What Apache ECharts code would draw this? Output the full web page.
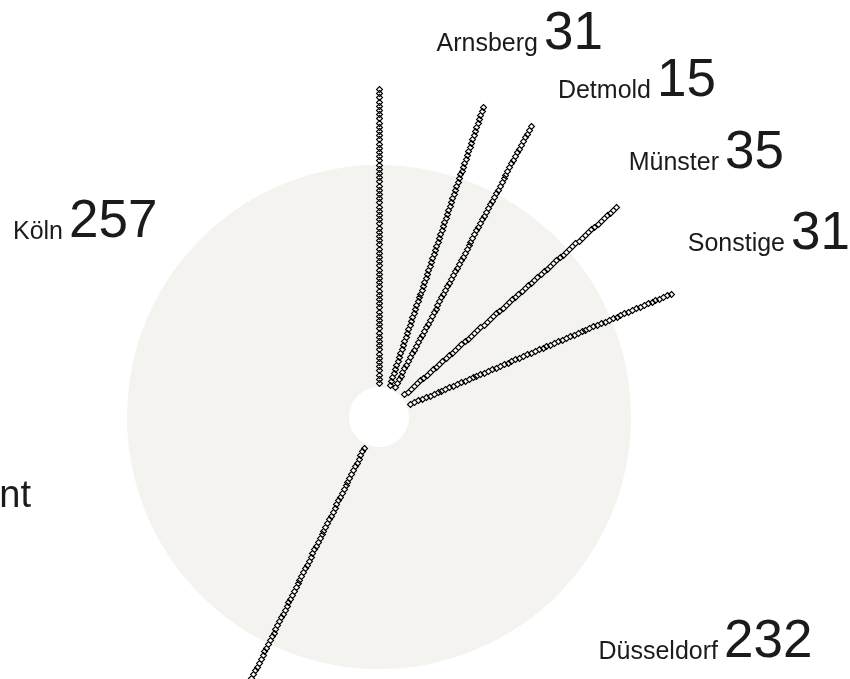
<!DOCTYPE html>
<html>
<head>
<meta charset="utf-8">
<script src="https://cdn.jsdelivr.net/npm/echarts@6/dist/echarts.min.js"></script>
<style>
  html, body { margin: 0; padding: 0; background: #fff; }
  #chart { width: 850px; height: 679px; }
</style>
</head>
<body>
<div id="chart"></div>
<script>
// Seats per administrative district, clockwise from 12 o'clock
const categories = ['Arnsberg', 'Detmold', 'Münster', 'Sonstige', 'Düsseldorf', 'Köln'];
const values = [31, 15, 35, 31, 232, 257];

// ---- layout & style ----
const FONT = '"Liberation Sans", Arial, sans-serif';
const CENTER = [379, 417];
const PIE_RADIUS = [30, 252];
const SPOKE_IN = 34;                                  // px from centre where a spoke starts
const SPOKE_OUT = [328, 327, 328, 317, 317, 345];     // spoke length per slice start
const LABEL_POS = [                                   // [number left x, baseline y]
  [547, 53], [660, 100], [728, 172], [794, 253], [727, 661], [72, 241]
];
const NAME_SIZE = 25, VALUE_SIZE = 53;
const INK = '#1b1b1b';
const FILL = '#f4f3ef';
const PITCH = 4.2, HALF = 3;

const total = values.reduce((a, b) => a + b, 0);
const starts = values.map((v, i) => values.slice(0, i).reduce((a, b) => a + b, 0));

// baseline -> centre-of-line offset used by zrender ('middle' baseline)
const mid = (baseline, size) => baseline - 0.3465 * size;

const labelGraphics = [];
categories.forEach((name, i) => {
  const [x, base] = LABEL_POS[i];
  labelGraphics.push({
    type: 'text', silent: true,
    style: { text: name, x: x - 9, y: mid(base, NAME_SIZE), align: 'right', verticalAlign: 'middle',
             font: NAME_SIZE + 'px ' + FONT, fill: INK }
  });
  labelGraphics.push({
    type: 'text', silent: true,
    style: { text: String(values[i]), x: x - 3, y: mid(base, VALUE_SIZE), align: 'left', verticalAlign: 'middle',
             font: VALUE_SIZE + 'px ' + FONT, fill: INK }
  });
});
labelGraphics.push({
  type: 'text', silent: true,
  style: { text: 'nt', x: 31, y: mid(510, 38), align: 'right', verticalAlign: 'middle',
           font: '38px ' + FONT, fill: INK }
});

const chart = echarts.init(document.getElementById('chart'), null, { renderer: 'canvas' });

chart.setOption({
  backgroundColor: '#fff',
  animation: false,
  polar: { center: CENTER, radius: 400 },
  angleAxis: { type: 'value', min: 0, max: total, startAngle: 90, clockwise: true, show: false },
  radiusAxis: { type: 'value', min: 0, max: 400, show: false },
  graphic: labelGraphics,
  series: [
    {
      type: 'pie',
      center: CENTER,
      radius: PIE_RADIUS,
      startAngle: 90,
      clockwise: true,
      silent: true,
      label: { show: false },
      labelLine: { show: false },
      itemStyle: { color: FILL, borderWidth: 0 },
      emphasis: { disabled: true },
      data: categories.map((c, i) => ({ name: c, value: values[i] }))
    },
    {
      type: 'custom',
      coordinateSystem: 'polar',
      silent: true,
      z: 5,
      data: starts.map(s => [s]),
      encode: { angle: 0 },
      renderItem: function (params, api) {
        const a = api.value(0);
        const p0 = api.coord([SPOKE_IN, a]);
        const p1 = api.coord([SPOKE_OUT[params.dataIndex], a]);
        const dx = p1[0] - p0[0], dy = p1[1] - p0[1];
        const n = Math.max(1, Math.round(Math.hypot(dx, dy) / PITCH));
        let d = '';
        for (let k = 0; k <= n; k++) {
          const cx = Math.round(p0[0] + dx * k / n) + 0.5;
          const cy = Math.round(p0[1] + dy * k / n) + 0.5;
          d += 'M' + cx + ' ' + (cy - HALF) + 'L' + (cx + HALF) + ' ' + cy +
               'L' + cx + ' ' + (cy + HALF) + 'L' + (cx - HALF) + ' ' + cy + 'Z';
        }
        return {
          type: 'path',
          shape: { pathData: d },
          style: { fill: '#fff', stroke: '#000', lineWidth: 1.1 }
        };
      }
    }
  ]
});
</script>
</body>
</html>
